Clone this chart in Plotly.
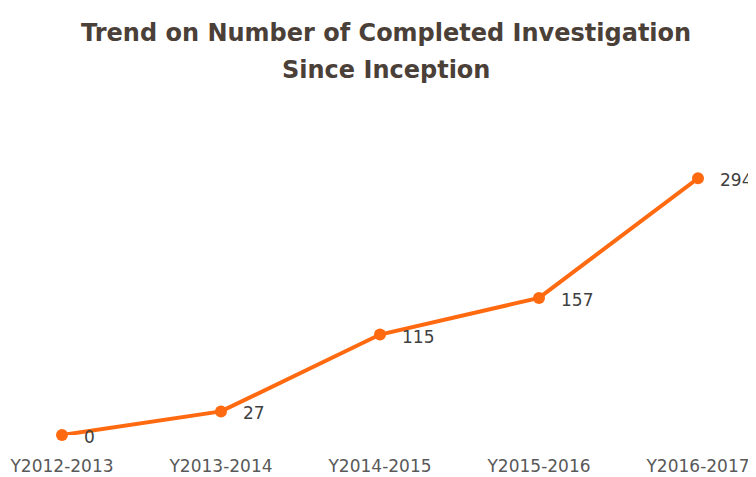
import plotly.graph_objects as go

categories = ["Y2012-2013", "Y2013-2014", "Y2014-2015", "Y2015-2016", "Y2016-2017"]
values = [0, 27, 115, 157, 294]
labels = [str(v) for v in values]
title_lines = ["Trend on Number of Completed Investigation", "Since Inception"]

line_color = "#FF6A10"
font_family = "DejaVu Sans, sans-serif"

fig = go.Figure()
fig.add_trace(go.Scatter(
    x=categories, y=values, mode="lines+markers",
    line=dict(color=line_color, width=4),
    marker=dict(color=line_color, size=12),
    cliponaxis=False, hoverinfo="skip",
))

for c, v, t in zip(categories, values, labels):
    fig.add_annotation(x=c, y=v, text=t, showarrow=False, xanchor="left",
                       xshift=20, yshift=-2,
                       font=dict(family=font_family, size=17, color="#404040"))

for line, shift in zip(title_lines, [140, 103]):
    fig.add_annotation(
        text="<b>" + line + "</b>",
        xref="paper", yref="paper", x=0.5, y=1, xanchor="center", yanchor="middle",
        xshift=6, yshift=shift, showarrow=False,
        font=dict(family=font_family, size=24, color="#4a4038"),
    )

fig.update_layout(
    width=756, height=477,
    paper_bgcolor="white", plot_bgcolor="white",
    showlegend=False,
    margin=dict(l=54, r=66, t=165, b=50, autoexpand=False),
)
fig.update_xaxes(type="category", range=[0, 4], showgrid=False, showline=False,
                 zeroline=False, ticks="", ticklabelstandoff=19, automargin=False,
                 tickfont=dict(family=font_family, size=17, color="#595959"))
fig.update_yaxes(range=[0, 300], visible=False, showgrid=False, zeroline=False,
                 automargin=False)

fig.write_html("out.html")
